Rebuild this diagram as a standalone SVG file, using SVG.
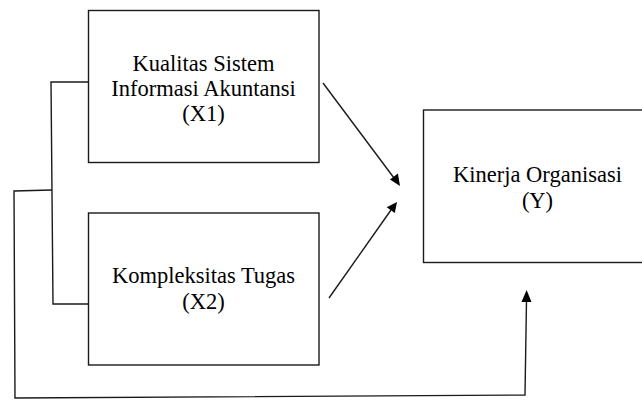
<svg xmlns="http://www.w3.org/2000/svg" width="642" height="401" viewBox="0 0 642 401">
<rect width="642" height="401" fill="#fff"/>
<g id="connectors" fill="none" stroke="#1a1a1a" stroke-width="1.4">
<path d="M88,82 L51,82 L53,304 L88,304"/>
<path d="M52,190 L14,191 L15,398 L525,395 L526.5,300"/>
<line x1="323" y1="83" x2="394" y2="178"/>
<line x1="329" y1="298" x2="391" y2="210"/>
<polygon points="526.6,290 521.5,302 531.5,302" fill="#000" stroke="none"/>
<polygon points="400,186 390,179.5 397.9,173.5" fill="#000" stroke="none"/>
<polygon points="397,202 386.7,207.2 394.8,212.9" fill="#000" stroke="none"/>
</g>
<g id="x1">
<rect x="88.5" y="10.5" width="230.5" height="152" fill="#fff" stroke="#1a1a1a" stroke-width="1.4"/>
<text x="203.5" y="71" font-family="Liberation Serif" font-size="22.5" text-anchor="middle">Kualitas Sistem</text>
<text x="203.5" y="96" font-family="Liberation Serif" font-size="22.5" text-anchor="middle">Informasi Akuntansi</text>
<text x="203.5" y="121" font-family="Liberation Serif" font-size="22.5" text-anchor="middle">(X1)</text>
</g>
<g id="x2">
<rect x="88.5" y="213" width="230.5" height="152" fill="#fff" stroke="#1a1a1a" stroke-width="1.4"/>
<text x="203.5" y="283" font-family="Liberation Serif" font-size="22.5" text-anchor="middle">Kompleksitas Tugas</text>
<text x="203.5" y="309" font-family="Liberation Serif" font-size="22.5" text-anchor="middle">(X2)</text>
</g>
<g id="y">
<rect x="423.5" y="110" width="225" height="152.5" fill="#fff" stroke="#1a1a1a" stroke-width="1.4"/>
<text x="537.5" y="182" font-family="Liberation Serif" font-size="22.5" text-anchor="middle">Kinerja Organisasi</text>
<text x="537.5" y="208" font-family="Liberation Serif" font-size="22.5" text-anchor="middle">(Y)</text>
</g>
</svg>
